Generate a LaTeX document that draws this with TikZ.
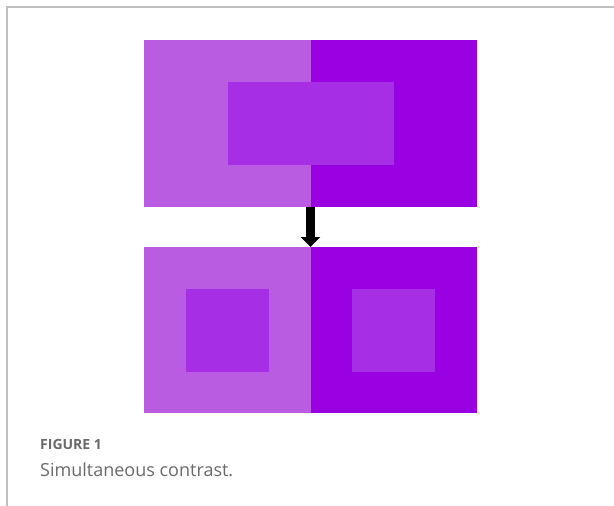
\documentclass[tikz,border=0pt]{standalone}
\usepackage{fontspec}
\setmainfont{Open Sans}
\usetikzlibrary{arrows.meta}
\definecolor{lightp}{RGB}{186,92,226}
\definecolor{darkp}{RGB}{153,0,226}
\definecolor{midp}{RGB}{166,46,228}
\definecolor{framegray}{RGB}{190,190,190}
\definecolor{capgray}{RGB}{105,105,105}
\tikzset{
  blk/.style={draw=none, inner sep=0pt, outer sep=0pt},
}
\begin{document}
\begin{tikzpicture}[x=1pt,y=-1pt]
\useasboundingbox (0,0) rectangle (614,506);
\draw[framegray, line width=1.5pt] (7,506) -- (7,7) -- (614,7);
% top pair
\fill[lightp] (144,40) rectangle (310.5,207);
\fill[darkp] (310.5,40) rectangle (477,207);
\fill[midp] (228,82) rectangle (394,165);
\node[blk, minimum width=333pt, minimum height=167pt] (top) at (310.5,123.5) {};
% bottom pair
\fill[lightp] (144,247) rectangle (310.5,413);
\fill[darkp] (310.5,247) rectangle (477,413);
\fill[midp] (186,289) rectangle (269,372);
\fill[midp] (352,289) rectangle (435,372);
\node[blk, minimum width=333pt, minimum height=166pt] (bot) at (310.5,330) {};
% arrow
\draw[line width=9pt, -{Triangle[width=19pt,length=10pt]}] (top.south) -- (bot.north);
% caption
\node[anchor=base west, inner sep=0pt, text=capgray, font=\fontsize{14}{16}\selectfont\bfseries] (fig) at (40,449) {FIGURE 1};
\node[anchor=base west, inner sep=0pt, text=capgray, font=\fontsize{18}{21}\selectfont] (cap) at (40,476) {Simultaneous contrast.};
\end{tikzpicture}
\end{document}
